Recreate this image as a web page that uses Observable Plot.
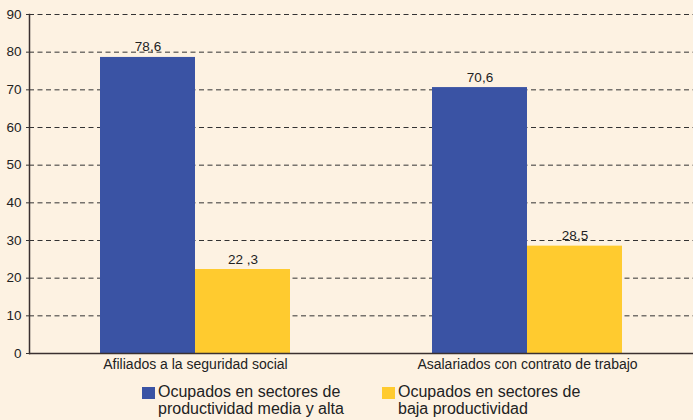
<!DOCTYPE html>
<html><head><meta charset="utf-8">
<script src="https://cdn.jsdelivr.net/npm/d3@7"></script>
<script src="https://cdn.jsdelivr.net/npm/@observablehq/plot@0.6"></script>
<style>
html,body{margin:0;padding:0;background:#FDF2E2;}
#wrap{position:relative;width:693px;height:420px;font-family:"Liberation Sans",Arial,sans-serif;}
#chart{position:absolute;left:0;top:0;}
.leg{position:absolute;top:384px;font-size:16px;line-height:16.5px;color:#222;white-space:nowrap;}
.sw{position:absolute;width:13px;height:12px;top:3px;left:-16px;}
</style></head>
<body><div id="wrap"><div id="chart"></div>
<div class="leg" id="leg0" style="left:158px"></div>
<div class="leg" id="leg1" style="left:398px"></div>
</div>
<script>
const categories = ["Afiliados a la seguridad social", "Asalariados con contrato de trabajo"];
const series = ["Ocupados en sectores de productividad media y alta", "Ocupados en sectores de baja productividad"];
const legendLines = [["Ocupados en sectores de", "productividad media y alta"], ["Ocupados en sectores de", "baja productividad"]];
const highValues = [78.6, 70.6];
const lowValues = [22.3, 28.5];
const highLabels = ["78,6", "70,6"];
const lowLabels = ["22 ,3", "28,5"];
const yTicks = [0, 10, 20, 30, 40, 50, 60, 70, 80, 90];
const colors = ["#3A53A4", "#FFCB2F"];

const data = [];
categories.forEach((c, i) => {
  data.push({cat: c, serie: series[0], value: highValues[i], label: highLabels[i]});
  data.push({cat: c, serie: series[1], value: lowValues[i], label: lowLabels[i]});
});

const chart = Plot.plot({
  width: 693,
  height: 378,
  marginLeft: 29,
  marginRight: 0,
  marginTop: 14,
  marginBottom: 25,
  style: {background: "transparent", fontFamily: "Liberation Sans, Arial, sans-serif", fontSize: "13.5px", color: "#222"},
  fx: {domain: categories, padding: 0, label: null},
  x: {domain: series, paddingInner: 0, paddingOuter: 0.73, axis: null},
  y: {domain: [0, 90], ticks: yTicks, label: null},
  color: {domain: series, range: colors},
  marks: [
    Plot.ruleY(yTicks.filter(d => d > 0), {stroke: "#333", strokeWidth: 1, strokeDasharray: "5,3.5"}),
    Plot.barY(data, {fx: "cat", x: "serie", y: "value", fill: "serie"}),
    Plot.text(data, {fx: "cat", x: "serie", y: "value", text: "label", lineAnchor: "bottom", dy: -6, fill: "#222", fontSize: 13.5}),
    Plot.ruleY([0], {stroke: "#3a3030", strokeWidth: 1.5}),
    Plot.frame({anchor: "left", facetAnchor: "left", stroke: "#3a3030", strokeWidth: 1.5}),
    Plot.axisY({ticks: yTicks, tickSize: 3, tickPadding: 5, label: null, fontSize: 13.5, stroke: "#333"}),
    Plot.axisFx({anchor: "bottom", tickSize: 0, tickPadding: 6, label: null, fontSize: 14})
  ]
});
document.getElementById("chart").appendChild(chart);

legendLines.forEach((lines, i) => {
  const el = document.getElementById("leg" + i);
  const sw = document.createElement("div");
  sw.className = "sw";
  sw.style.background = colors[i];
  el.appendChild(sw);
  lines.forEach((t, j) => {
    const d = document.createElement("div");
    d.textContent = t;
    el.appendChild(d);
  });
});
</script></body></html>
